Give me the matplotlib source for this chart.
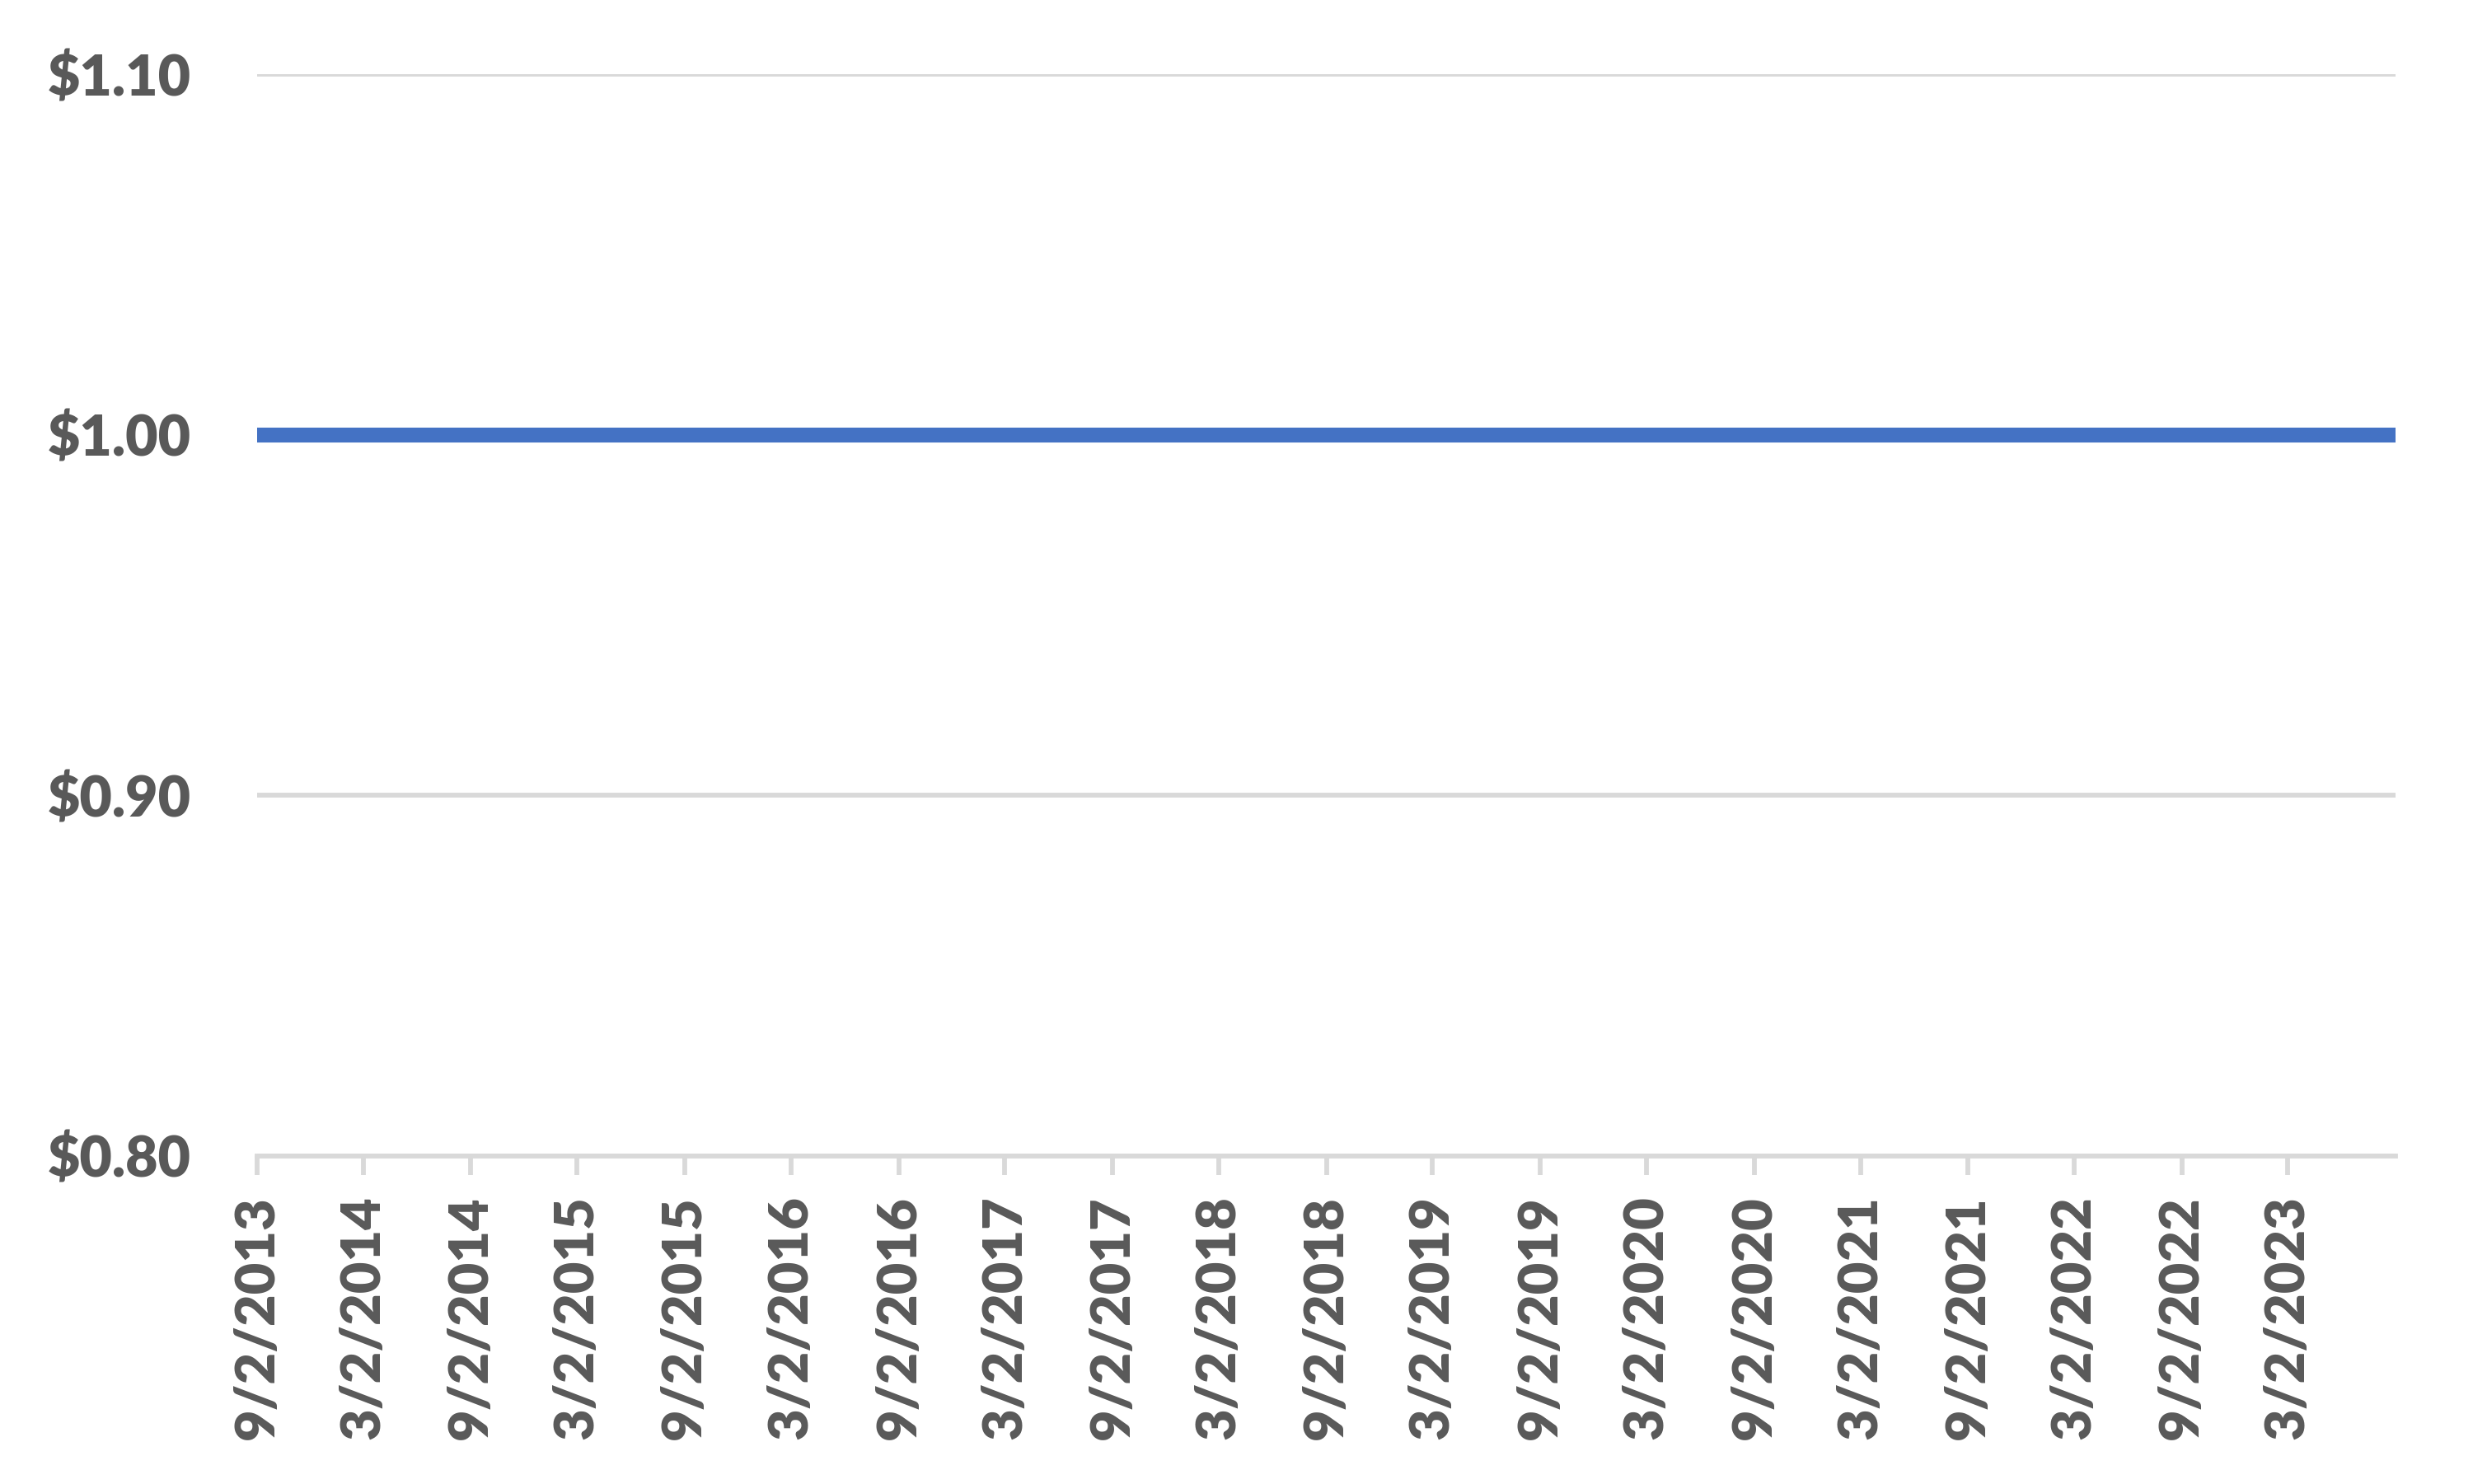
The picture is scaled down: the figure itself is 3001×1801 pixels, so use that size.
import pandas as pd
import matplotlib.pyplot as plt
import matplotlib.dates as mdates
from matplotlib.ticker import FuncFormatter

# Данные: цена (в долларах) на даты
dates = ['2013-09-02', '2014-03-02', '2014-09-02', '2015-03-02', '2015-09-02',
         '2016-03-02', '2016-09-02', '2017-03-02', '2017-09-02', '2018-03-02',
         '2018-09-02', '2019-03-02', '2019-09-02', '2020-03-02', '2020-09-02',
         '2021-03-02', '2021-09-02', '2022-03-02', '2022-09-02', '2023-03-02',
         '2023-09-02']
prices = [1.00, 1.00, 1.00, 1.00, 1.00,
          1.00, 1.00, 1.00, 1.00, 1.00,
          1.00, 1.00, 1.00, 1.00, 1.00,
          1.00, 1.00, 1.00, 1.00, 1.00,
          1.00]
y_ticks = [0.80, 0.90, 1.00, 1.10]

dates = pd.to_datetime(dates)
tick_dates = dates[:-1]

text_color = '#595959'
grid_color = '#d9d9d9'

plt.rcParams['font.family'] = ['Lato', 'DejaVu Sans']

fig = plt.figure(figsize=(30.01, 18.01), dpi=100)
ax = fig.add_axes([0.1040, 0.221, 0.8647, 0.729])

ax.plot(dates, prices, color='#4472C4', linewidth=13, solid_capstyle='butt', zorder=3)

# Оси
ax.set_xlim(dates[0], dates[-1])
ax.set_ylim(0.80, 1.10)
ax.set_yticks(y_ticks)
ax.yaxis.set_major_formatter(FuncFormatter(lambda v, p: f'${v:.2f}'))
ax.set_xticks(tick_dates)
ax.xaxis.set_major_formatter(FuncFormatter(
    lambda v, p: f'{mdates.num2date(v).month}/{mdates.num2date(v).day}/{mdates.num2date(v).year}'))

ax.grid(axis='y', color=grid_color, linewidth=4.2, zorder=0)
for side in ['top', 'right', 'left']:
    ax.spines[side].set_visible(False)
ax.spines['bottom'].set_color(grid_color)
ax.spines['bottom'].set_linewidth(4.2)

ax.tick_params(axis='y', length=0, pad=58, labelsize=49, labelcolor=text_color)
ax.tick_params(axis='x', length=16.5, width=4.2, color=grid_color, pad=18,
               labelsize=48, labelcolor=text_color, labelrotation=90)
for lbl in ax.get_xticklabels() + ax.get_yticklabels():
    lbl.set_fontweight('heavy')

fig.savefig('out.png', dpi=100, facecolor='white')
